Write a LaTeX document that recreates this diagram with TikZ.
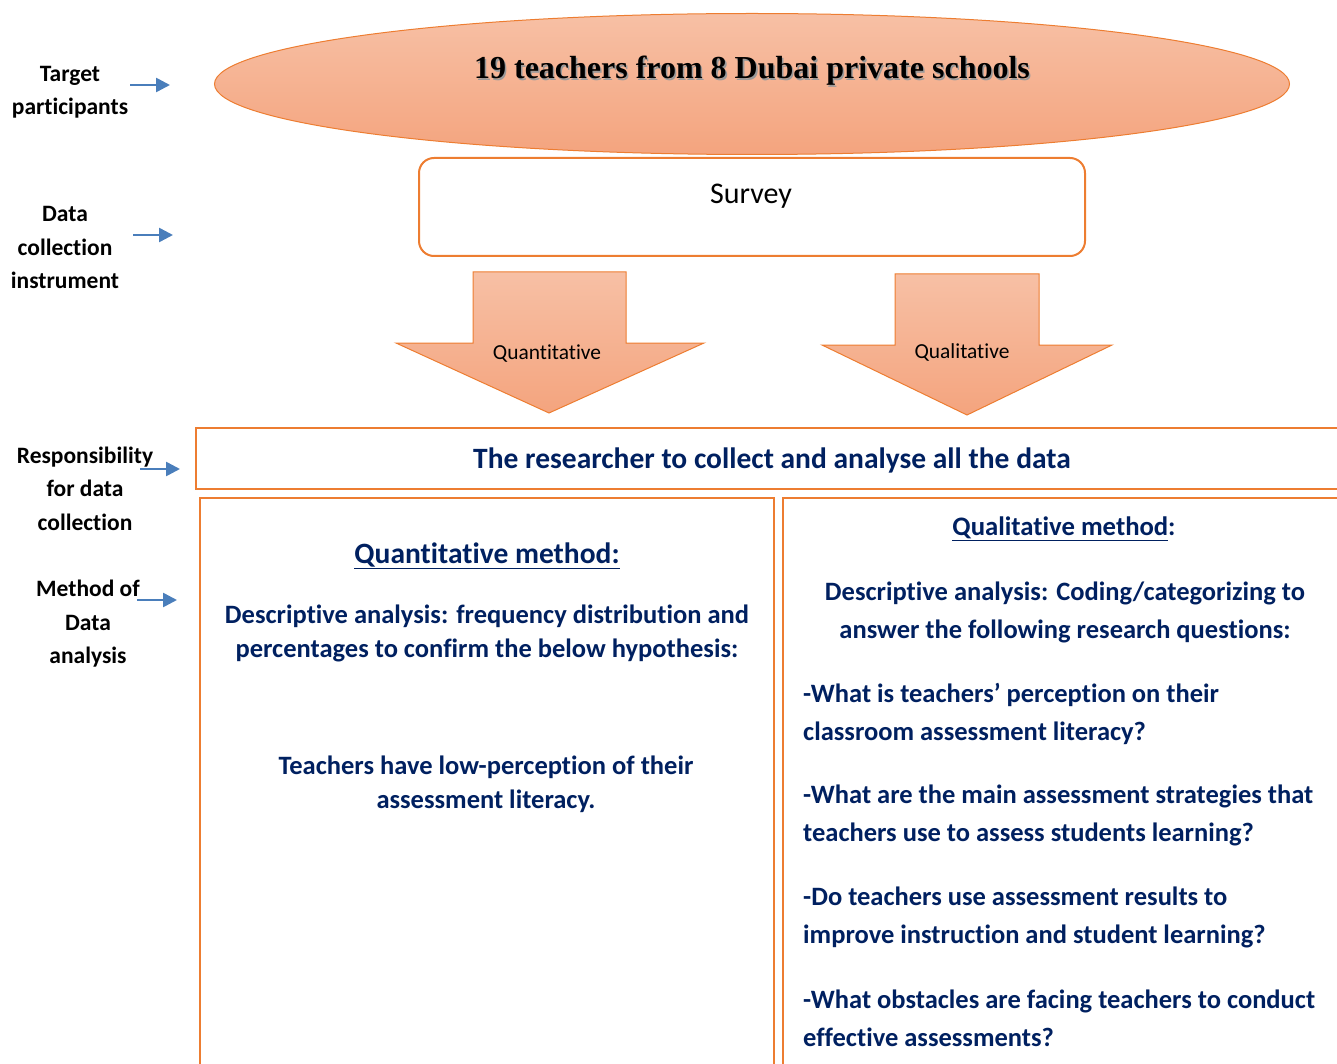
\documentclass[tikz,border=0pt]{standalone}
\usepackage{fontspec}
\setmainfont{Carlito}[Ligatures=NoCommon]
\newfontfamily\titlefont{Liberation Serif}
\usetikzlibrary{arrows.meta,shapes.geometric}
\definecolor{bordo}{HTML}{ED7D31}
\definecolor{navy}{HTML}{002060}
\definecolor{pointer}{HTML}{4A7EBB}
\definecolor{peachtop}{HTML}{F7C0A5}
\definecolor{peachbot}{HTML}{F4A47E}
\tikzset{
  sidelabel/.style={font=\bfseries\fontsize{23.5}{33.5}\selectfont, align=center, text=black},
  pointerarrow/.style={draw=pointer, line width=2.6pt, -{Triangle[length=14pt,width=14pt]}},
  frame/.style={draw=bordo, line width=2.5pt},
  downarrow/.style={draw=bordo, line width=1pt, top color=peachtop, bottom color=peachbot},
  bodytext/.style={font=\bfseries\fontsize{26.5}{34}\selectfont, text=navy, align=center},
  qtext/.style={font=\bfseries\fontsize{26.5}{38}\selectfont, text=navy, align=left, anchor=west, inner sep=0pt},
  heading/.style={font=\bfseries\fontsize{29.5}{32}\selectfont, text=navy},
}
\begin{document}
\begin{tikzpicture}[x=1pt,y=-1pt]
\useasboundingbox (0,0) rectangle (1337,1064);
\clip (0,0) rectangle (1337,1064);

% participants ellipse
\node[ellipse, draw=bordo, line width=1pt, top color=peachtop, bottom color=peachbot,
      minimum width=1075pt, minimum height=141pt, inner sep=0pt] (target) at (752,84) {};
\node[font=\titlefont\bfseries\fontsize{32}{36}\selectfont, text=black!40] at (753.5,72.5) {19 teachers from 8 Dubai private schools};
\node[font=\titlefont\bfseries\fontsize{32}{36}\selectfont, text=black] (title) at (752,71) {19 teachers from 8 Dubai private schools};

% instrument box
\node[draw=bordo, line width=2pt, rounded corners=15pt, minimum width=666pt, minimum height=98pt, inner sep=0pt] (survey) at (752,207) {};
\node[font=\fontsize{30}{32}\selectfont] (surveytext) at (751,196) {Survey};

% two branch arrows
\draw[downarrow] (473,272) -- (626,272) -- (626,343) -- (704,343) -- (549,413) -- (396,343) -- (473,343) -- cycle;
\node[font=\fontsize{21.4}{24}\selectfont] (quant) at (547,354) {Quantitative};
\draw[downarrow] (895,274) -- (1039,274) -- (1039,345) -- (1112,345) -- (967,415) -- (822,345) -- (895,345) -- cycle;
\node[font=\fontsize{21.4}{24}\selectfont] (qual) at (962,352) {Qualitative};

% responsibility strip
\draw[frame] (196,428) rectangle (1350,489);
\node[heading] (resp) at (772,460) {The researcher to collect and analyse all the data};

% analysis columns
\draw[frame] (200,498) rectangle (774,1080);
\draw[frame] (783,498) rectangle (1350,1080);

\node[heading] (quanthead) at (487,556) {\underline{Quantitative method:}};
\node[bodytext] (quantdesc) at (487,633) {Descriptive analysis: frequency distribution and\\percentages to confirm the below hypothesis:};
\node[bodytext] (hypo) at (486,784) {Teachers have low-perception of their\\assessment literacy.};

\node[font=\bfseries\fontsize{26.7}{30}\selectfont, text=navy] (qualhead) at (1064,529) {\underline{Qualitative method}:};
\node[font=\bfseries\fontsize{26.5}{38}\selectfont, text=navy, align=center] (qualdesc) at (1065,612) {Descriptive analysis: Coding/categorizing to\\answer the following research questions:};
\node[qtext] (q1) at (803,714) {-What is teachers’ perception on their\\classroom assessment literacy?};
\node[qtext] (q2) at (803,815) {-What are the main assessment strategies that\\teachers use to assess students learning?};
\node[qtext] (q3) at (803,917) {-Do teachers use assessment results to\\improve instruction and student learning?};
\node[qtext] (q4) at (803,1018.5) {-What obstacles are facing teachers to conduct\\effective assessments?};

% row labels with pointers
\node[sidelabel] (lab1) at (70,92) {Target\\participants};
\node[sidelabel] (lab2) at (65,247.5) {Data\\collection\\instrument};
\node[sidelabel] (lab3) at (85,488.5) {Responsibility\\for data\\collection};
\node[sidelabel] (lab4) at (88,624) {Method of\\Data\\analysis};

\coordinate (p1s) at (130,85);  \coordinate (p1e) at (170,85);
\coordinate (p2s) at (133,235); \coordinate (p2e) at (173,235);
\coordinate (p3s) at (140,469); \coordinate (p3e) at (180,469);
\coordinate (p4s) at (137,600); \coordinate (p4e) at (177,600);
\draw[pointerarrow] (p1s) -- (p1e);
\draw[pointerarrow] (p2s) -- (p2e);
\draw[pointerarrow] (p3s) -- (p3e);
\draw[pointerarrow] (p4s) -- (p4e);
\end{tikzpicture}
\end{document}
